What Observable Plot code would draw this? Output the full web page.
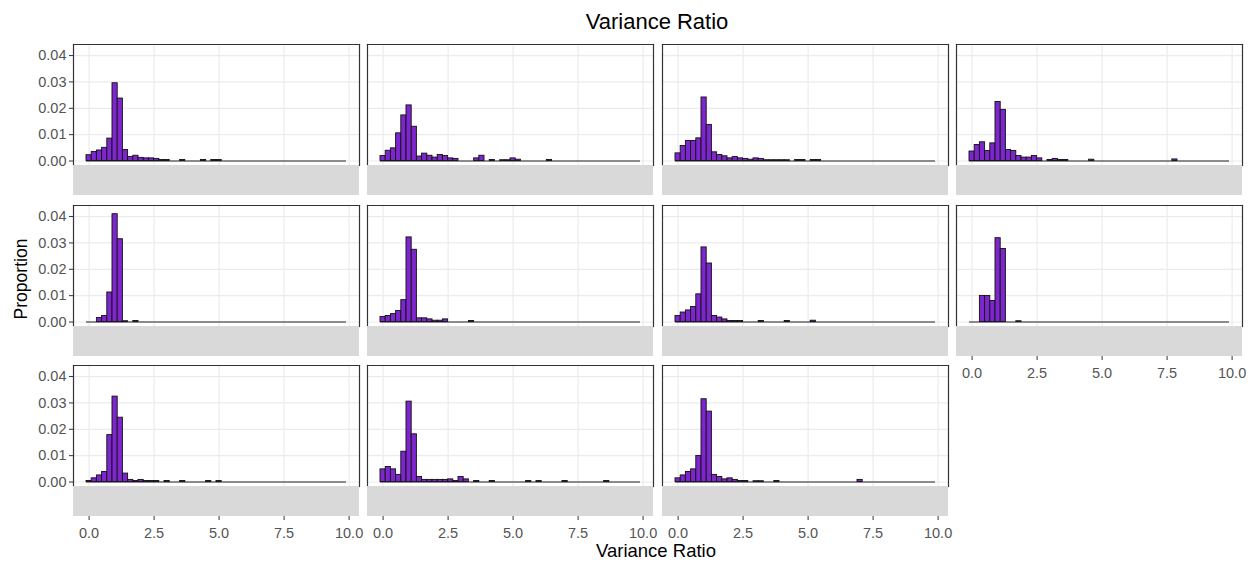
<!DOCTYPE html>
<html><head><meta charset="utf-8">
<script src="https://cdn.jsdelivr.net/npm/d3@7"></script>
<script src="https://cdn.jsdelivr.net/npm/@observablehq/plot@0.6"></script>
<style>
body{margin:0;background:#fff;font-family:"Liberation Sans",Arial,sans-serif;}
#chart{position:relative;width:1251px;height:562px;overflow:hidden;background:#fff;}
.abs{position:absolute;white-space:nowrap;color:#000;}
.strip{position:absolute;background:#D9D9D9;}
.panel{position:absolute;}
</style></head><body><div id="chart"></div>
<script>
// ---- data ----
const binWidth = 0.2;
const binCenters = [0,0.2,0.4,0.6,0.8,1,1.2,1.4,1.6,1.8,2,2.2,2.4,2.6,2.8,3,3.2,3.4,3.6,3.8,4,4.2,4.4,4.6,4.8,5,5.2,5.4,5.6,5.8,6,6.2,6.4,6.6,6.8,7,7.2,7.4,7.6,7.8,8,8.2,8.4,8.6,8.8,9,9.2,9.4,9.6,9.8];
const p1 = [0.0022,0.0034,0.0040,0.0050,0.0085,0.0295,0.0237,0.0042,0.0015,0.0020,0.0012,0.0010,0.0010,0.0008,0.0004,0.0004,0,0,0.0004,0,0,0,0.0004,0,0.0004,0.0004,0,0,0,0,0,0,0,0,0,0,0,0,0,0,0,0,0,0,0,0,0,0,0,0];
const p2 = [0.0019,0.0039,0.0048,0.0105,0.0173,0.0211,0.0130,0.0017,0.0028,0.0020,0.0013,0.0023,0.0019,0.0010,0.0008,0,0,0,0.0010,0.0020,0,0.0004,0,0.0003,0.0003,0.0010,0.0005,0,0,0,0,0,0.0004,0,0,0,0,0,0,0,0,0,0,0,0,0,0,0,0,0];
const p3 = [0.0029,0.0057,0.0076,0.0076,0.0086,0.0241,0.0137,0.0033,0.0023,0.0018,0.0010,0.0015,0.0010,0.0008,0.0005,0.0010,0.0008,0.0003,0.0003,0.0003,0.0003,0.0003,0,0.0004,0.0004,0,0.0004,0.0004,0,0,0,0,0,0,0,0,0,0,0,0,0,0,0,0,0,0,0,0,0,0];
const p4 = [0.0036,0.0061,0.0071,0.0038,0.0067,0.0224,0.0194,0.0042,0.0038,0.0019,0.0013,0.0013,0.0019,0.0010,0,0.0004,0.0008,0.0004,0.0004,0,0,0,0,0.0005,0,0,0,0,0,0,0,0,0,0,0,0,0,0,0,0.0006,0,0,0,0,0,0,0,0,0,0];
const p5 = [0,0,0.0015,0.0023,0.0112,0.0409,0.0314,0.0003,0,0.0004,0,0,0,0,0,0,0,0,0,0,0,0,0,0,0,0,0,0,0,0,0,0,0,0,0,0,0,0,0,0,0,0,0,0,0,0,0,0,0,0];
const p6 = [0.0019,0.0023,0.0030,0.0042,0.0083,0.0321,0.0274,0.0014,0.0014,0.0010,0.0005,0.0005,0.0010,0,0,0,0,0.0004,0,0,0,0,0,0,0,0,0,0,0,0,0,0,0,0,0,0,0,0,0,0,0,0,0,0,0,0,0,0,0,0];
const p7 = [0.0023,0.0036,0.0044,0.0057,0.0105,0.0283,0.0222,0.0023,0.0017,0.0010,0.0004,0.0004,0.0004,0,0,0,0.0004,0,0,0,0,0.0004,0,0,0,0,0.0005,0,0,0,0,0,0,0,0,0,0,0,0,0,0,0,0,0,0,0,0,0,0,0];
const p8 = [0,0,0.0099,0.0099,0.0080,0.0318,0.0277,0,0,0.0003,0,0,0,0,0,0,0,0,0,0,0,0,0,0,0,0,0,0,0,0,0,0,0,0,0,0,0,0,0,0,0,0,0,0,0,0,0,0,0,0];
const p9 = [0.0004,0.0014,0.0025,0.0038,0.0178,0.0324,0.0244,0.0032,0.0008,0.0004,0.0008,0.0004,0.0004,0.0004,0,0.0004,0,0,0.0004,0,0,0,0,0.0004,0,0.0004,0,0,0,0,0,0,0,0,0,0,0,0,0,0,0,0,0,0,0,0,0,0,0,0];
const p10 = [0.0048,0.0057,0.0048,0.0027,0.0115,0.0305,0.0181,0.0019,0.0008,0.0008,0.0008,0.0008,0.0008,0.0010,0.0004,0.0019,0.0010,0,0.0004,0,0,0.0004,0,0,0,0,0,0,0.0004,0,0.0004,0,0,0,0,0.0004,0,0,0,0,0,0,0,0.0004,0,0,0,0,0,0];
const p11 = [0.0014,0.0025,0.0038,0.0048,0.0099,0.0314,0.0267,0.0027,0.0019,0.0010,0.0014,0.0008,0.0004,0.0004,0,0.0003,0.0003,0,0,0.0004,0,0,0,0,0,0,0,0,0,0,0,0,0,0,0,0.0008,0,0,0,0,0,0,0,0,0,0,0,0,0,0];
const panels = [p1,p2,p3,p4,p5,p6,p7,p8,p9,p10,p11];
const xTicks = [0,2.5,5,7.5,10];
const yTicks = [0,0.01,0.02,0.03,0.04];
const titleText = "Variance Ratio";
const xTitle = "Variance Ratio";
const yTitle = "Proportion";

// ---- layout ----
const FILL = "#7D26CD";
const colLefts = [73, 367.3, 661.6, 955.9];
const rowTops = [44, 204.5, 365];
const PW = 286, PH = 121, SH = 30;
const xDomain = [-0.6, 10.4];
const yDomain = [-0.0017, 0.0442];
const FONT = "'Liberation Sans', Arial, sans-serif";
const TICKFS = 14.5;

const chart = document.getElementById("chart");

function makePanel(vals, showX, showY) {
  const data = binCenters.map((x, j) => ({x, v: vals[j]}));
  const lo = d3.min(binCenters) - binWidth / 2;
  const hi = d3.max(binCenters) + binWidth / 2;
  const marks = [
    Plot.gridX(xTicks, {stroke: "#EBEBEB", strokeOpacity: 1, strokeWidth: 1.2}),
    Plot.gridY(yTicks, {stroke: "#EBEBEB", strokeOpacity: 1, strokeWidth: 1.2}),
    Plot.ruleY([0], {x1: lo, x2: hi, stroke: "#222", strokeWidth: 1.1}),
    Plot.rectY(data.filter(d => d.v > 0), {
      x1: d => d.x - binWidth / 2, x2: d => d.x + binWidth / 2, y: "v",
      fill: FILL, stroke: "#111", strokeWidth: 0.9
    }),
    Plot.frame({anchor: "top", stroke: "#333333", strokeWidth: 1.2}),
    Plot.frame({anchor: "left", stroke: "#333333", strokeWidth: 1.2}),
    Plot.frame({anchor: "right", stroke: "#333333", strokeWidth: 1.2})
  ];
  if (showY) marks.push(Plot.axisY(yTicks, {
    tickFormat: d3.format(".2f"), tickSize: 4, tickPadding: 3,
    fontSize: TICKFS, fill: "#555555", stroke: "#333333", label: null
  }));
  if (showX) marks.push(Plot.axisX(xTicks, {
    tickFormat: d3.format(".1f"), tickSize: 4, tickPadding: 7, dy: SH,
    fontSize: TICKFS, fill: "#555555", stroke: "#333333", label: null
  }));
  return Plot.plot({
    width: PW, height: PH + SH,
    marginTop: 0, marginLeft: 0, marginRight: 0, marginBottom: SH,
    x: {domain: xDomain, axis: showX ? undefined : null, label: null},
    y: {domain: yDomain, axis: showY ? undefined : null, label: null},
    style: {background: "transparent", overflow: "visible", fontFamily: FONT, fontSize: TICKFS + "px"},
    marks
  });
}

panels.forEach((vals, i) => {
  const col = i % 4, row = Math.floor(i / 4);
  const showY = col === 0;
  const showX = row === 2 || (row === 1 && col === 3);
  const wrap = document.createElement("div");
  wrap.className = "panel";
  wrap.style.left = colLefts[col] + "px";
  wrap.style.top = rowTops[row] + "px";
  wrap.appendChild(makePanel(vals, showX, showY));
  chart.appendChild(wrap);
  const strip = document.createElement("div");
  strip.className = "strip";
  strip.style.left = colLefts[col] + "px";
  strip.style.top = (rowTops[row] + PH) + "px";
  strip.style.width = PW + "px";
  strip.style.height = SH + "px";
  chart.appendChild(strip);
});

function addText(txt, x, y, size, rotate) {
  const d = document.createElement("div");
  d.className = "abs";
  d.textContent = txt;
  d.style.fontSize = size + "px";
  d.style.left = x + "px";
  d.style.top = y + "px";
  d.style.transform = "translate(-50%,-50%)" + (rotate ? " rotate(-90deg)" : "");
  chart.appendChild(d);
}
addText(titleText, 657, 22, 22, false);
addText(xTitle, 656, 551, 18.5, false);
addText(yTitle, 21, 279, 17.5, true);
</script>
</body></html>
